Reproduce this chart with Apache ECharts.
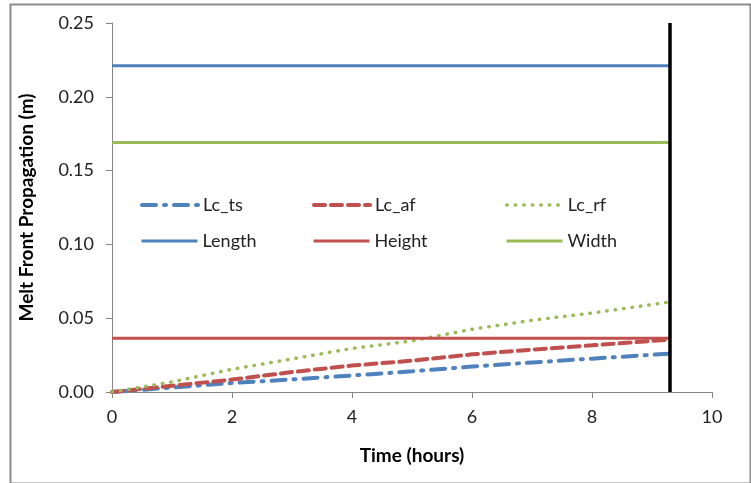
<!DOCTYPE html>
<html>
<head>
<meta charset="utf-8">
<script src="https://cdn.jsdelivr.net/npm/echarts@6/dist/echarts.min.js"></script>
<style>
html,body{margin:0;padding:0;background:#fff;}
#c{width:751px;height:483px;}
</style>
</head>
<body>
<div id="c"></div>
<script>
// Data
var time = [0, 1, 2, 3, 4, 5, 6, 7, 8, 9.3];
var lcTs = [0, 0.003, 0.0061, 0.0085, 0.0112, 0.014, 0.0172, 0.02, 0.0226, 0.026];
var lcAf = [0, 0.0042, 0.0084, 0.0135, 0.0179, 0.0212, 0.0255, 0.0287, 0.0316, 0.0355];
var lcRf = [0, 0.0068, 0.0154, 0.0224, 0.0295, 0.0346, 0.0425, 0.0486, 0.0535, 0.061];
var lengthVal = 0.221;
var heightVal = 0.0365;
var widthVal = 0.169;
var endTime = 9.3;
var xTicks = [0, 2, 4, 6, 8, 10];
var yTicks = [0, 0.05, 0.10, 0.15, 0.20, 0.25];
var seriesNames = ['Lc_ts', 'Lc_af', 'Lc_rf', 'Length', 'Height', 'Width'];

var BLUE = '#4F81BD', RED = '#C0504D', GREEN = '#9BBB59';
var FONT = 'Lato';

function pairs(xs, ys) { return xs.map(function (x, i) { return [x, ys[i]]; }); }
function flat(v) { return [[0, v], [endTime, v]]; }

var lineSeries = [
  { name: seriesNames[0], data: pairs(time, lcTs), color: BLUE, lineStyle: { width: 4, type: [14, 8, 2, 8], cap: 'round' } },
  { name: seriesNames[1], data: pairs(time, lcAf), color: RED, lineStyle: { width: 4, type: [11, 6], cap: 'round' } },
  { name: seriesNames[2], data: pairs(time, lcRf), color: GREEN, lineStyle: { width: 3.5, type: [0.5, 8], cap: 'round' } },
  { name: seriesNames[3], data: flat(lengthVal), color: BLUE, lineStyle: { width: 3 } },
  { name: seriesNames[4], data: flat(heightVal), color: RED, lineStyle: { width: 3 } },
  { name: seriesNames[5], data: flat(widthVal), color: GREEN, lineStyle: { width: 3 } }
];

var series = lineSeries.map(function (s) {
  return {
    name: s.name, type: 'line', data: s.data, symbol: 'none', showSymbol: false,
    itemStyle: { color: s.color },
    lineStyle: Object.assign({ color: s.color }, s.lineStyle),
    animation: false, silent: true
  };
});
series.push({
  name: 'end', type: 'line', data: [[endTime, yTicks[0]], [endTime, yTicks[yTicks.length - 1]]],
  symbol: 'none', lineStyle: { color: '#000', width: 3.5 }, animation: false, silent: true, z: 5
});

var legendPos = [
  { left: 140, top: 196 }, { left: 312, top: 196 }, { left: 505, top: 196 },
  { left: 140, top: 232 }, { left: 312, top: 232 }, { left: 505, top: 232 }
];
var legends = seriesNames.map(function (n, i) {
  var s = lineSeries[i];
  return {
    data: [{ name: n, itemStyle: { opacity: 0 }, lineStyle: Object.assign({ color: s.color }, s.lineStyle) }],
    left: legendPos[i].left, top: legendPos[i].top, orient: 'horizontal',
    itemWidth: 56, itemHeight: 16, padding: 0, selectedMode: false,
    textStyle: { fontFamily: FONT, fontSize: 18, color: '#222' }
  };
});

var chart = echarts.init(document.getElementById('c'), null, { renderer: 'canvas' });
chart.setOption({
  animation: false,
  backgroundColor: '#fff',
  grid: { left: 112, right: 39, top: 23, bottom: 91, containLabel: false },
  legend: legends,
  xAxis: {
    type: 'value', min: xTicks[0], max: xTicks[xTicks.length - 1], interval: 2,
    name: 'Time (hours)', nameLocation: 'middle', nameGap: 54,
    nameTextStyle: { fontFamily: FONT, fontSize: 19, fontWeight: 'bold', color: '#000' },
    axisLine: { show: true, onZero: false, lineStyle: { color: '#868686', width: 1 } },
    axisTick: { show: true, inside: false, length: 6, lineStyle: { color: '#868686' } },
    axisLabel: { fontFamily: FONT, fontSize: 18, color: '#222', margin: 16 },
    splitLine: { show: false }
  },
  yAxis: {
    type: 'value', min: yTicks[0], max: yTicks[yTicks.length - 1], interval: 0.05,
    name: 'Melt Front Propagation (m)', nameLocation: 'middle', nameGap: 76, nameRotate: 90,
    nameTextStyle: { fontFamily: FONT, fontSize: 19, fontWeight: 'bold', color: '#000' },
    axisLine: { show: true, lineStyle: { color: '#868686', width: 1 } },
    axisTick: { show: true, inside: false, length: 6, lineStyle: { color: '#868686' } },
    axisLabel: { fontFamily: FONT, fontSize: 18, color: '#222', margin: 18,
      formatter: function (v) { return v.toFixed(2); } },
    splitLine: { show: false }
  },
  graphic: [{
    type: 'rect', left: 8, top: 2, silent: true,
    shape: { width: 740, height: 479 },
    style: { fill: 'none', stroke: '#8c8c8c', lineWidth: 2 }, z: -1
  }],
  series: series
});
</script>
</body>
</html>
